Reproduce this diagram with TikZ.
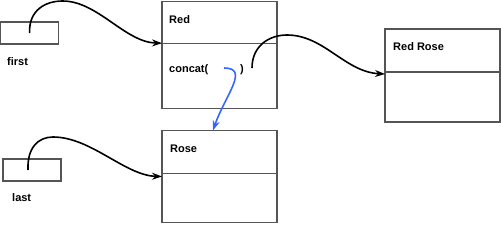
\documentclass[tikz,border=0pt]{standalone}
\usepackage{fontspec}
\setmainfont{Liberation Sans}
\usetikzlibrary{calc,arrows.meta}
\definecolor{boxgray}{RGB}{85,85,85}
\definecolor{callblue}{RGB}{51,102,255}

\begin{document}
\begin{tikzpicture}[>={Stealth[length=10pt,width=7pt]}, x=1pt, y=-1pt,
    part/.style={draw=boxgray, line width=1.1pt, minimum width=115pt, inner sep=0pt, outer sep=0pt},
    ptr/.style={draw=boxgray, line width=1.1pt, minimum width=58pt, minimum height=22pt, inner sep=0pt, outer sep=0pt},
    lbl/.style={font=\fontsize{11}{13}\selectfont\bfseries, inner sep=0pt, anchor=west},
    link/.style={->, line width=1.6pt}]
        \useasboundingbox (0,0) rectangle (501,225);

        % --- 1. Reference variables ---
        \node[ptr, anchor=north west] (first) at (0.6,22) {};
        \node[lbl] (firstLbl) at (7,62) {first};
        \node[ptr, anchor=north west] (last) at (3,159) {};
        \node[lbl] (lastLbl) at (12,198) {last};

        % --- 2. String objects ---
        \node[part, anchor=north west, minimum height=42pt] (redTop) at (162,1.2) {};
        \node[part, anchor=north, minimum height=65pt] (redBot) at (redTop.south) {};
        \node[lbl] (redLbl) at ($(redTop.west)+(7,-3)$) {Red};
        \node[lbl] (concatLbl) at ($(redBot.west)+(7,-6)$) {concat(};
        \node[lbl] (rparen) at (240,69.5) {)};

        \node[part, anchor=north west, minimum height=43pt] (rrTop) at (385,29) {};
        \node[part, anchor=north, minimum height=50pt] (rrBot) at (rrTop.south) {};
        \node[lbl] (rrLbl) at ($(rrTop.west)+(8,-3.5)$) {Red Rose};

        \node[part, anchor=north west, minimum height=43pt] (roseTop) at (162,130.5) {};
        \node[part, anchor=north, minimum height=49pt] (roseBot) at (roseTop.south) {};
        \node[lbl] (roseLbl) at ($(roseTop.west)+(8,-3.5)$) {Rose};

        % --- 3. References ---
        \coordinate (callOut) at (252,68);
        \coordinate (argIn) at (224,68);

        \draw[link] (first.center) .. controls +(-1,-23) and +(-17,0) .. ++(33,-32)
            .. controls +(35,0) and +(-37,-1) .. (redBot.north west);
        \draw[link] ([xshift=-4pt]last.center) .. controls +(-1,-22) and +(-15,0) .. ++(25,-33)
            .. controls +(38,0) and +(-37,-1) .. ([yshift=-3pt]roseBot.north west);
        \draw[link] (callOut) .. controls +(0,-22) and +(-18,0) .. ++(35,-33)
            .. controls +(37,0) and +(-40,-2) .. ([yshift=-2pt]rrBot.north west);

        % call argument
        \draw[link, callblue] (argIn) .. controls +(26,0) and +(12,-35) .. ([xshift=-6.5pt]roseTop.north);
    \end{tikzpicture}
\end{document}
